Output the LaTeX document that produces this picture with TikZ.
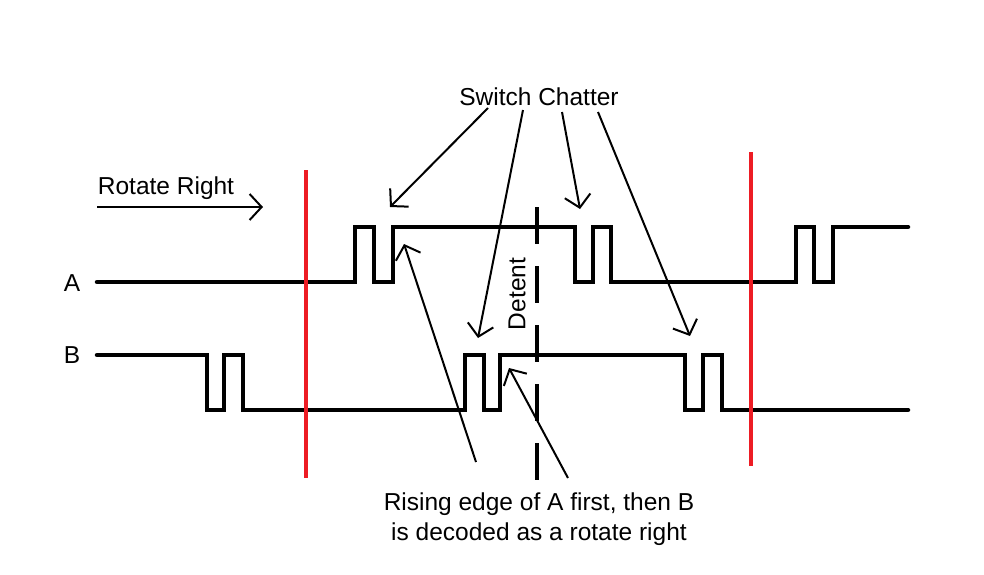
\documentclass[tikz,border=0pt]{standalone}
\usepackage{fontspec}
\setmainfont{Liberation Sans}
\usetikzlibrary{arrows.meta,positioning}
\tikzset{font=\fontsize{24.5}{30}\selectfont}
\tikzstyle{wave}=[line width=4.5pt,line join=miter,line cap=round]
\tikzstyle{redline}=[line width=3.5pt,draw={rgb,255:red,237;green,28;blue,36}]
\tikzstyle{pointer}=[line width=2pt,-{Straight Barb[length=12pt,width=26pt]}]
\tikzstyle{detentline}=[line width=4.5pt,dash pattern=on 37pt off 22pt]

\begin{document}
\begin{tikzpicture}[x=1pt,y=-1pt]
\useasboundingbox (0,0) rectangle (984,574);
% labels
\node (sc) at (539,97) {Switch Chatter};
\node (rr) at (166,188) {Rotate Right};
\node (la) at (72,283) {A};
\node (lb) at (72,355) {B};
\node[rotate=90] (det) at (517,294) {Detent};
\node[align=center] (rise) at (539,519) {Rising edge of A first, then B\\is decoded as a rotate right};
% waveforms
\draw[wave] (97,282) -- (355,282) -- (355,227) -- (374,227) -- (374,282) -- (393,282) -- (393,227)
  -- (575,227) -- (575,282) -- (593,282) -- (593,227) -- (611,227) -- (611,282)
  -- (796,282) -- (796,227) -- (814,227) -- (814,282) -- (833,282) -- (833,227) -- (908,227);
\draw[wave] (97,355) -- (207,355) -- (207,410) -- (224,410) -- (224,355) -- (243,355) -- (243,410)
  -- (465,410) -- (465,355) -- (484,355) -- (484,410) -- (500,410) -- (500,355)
  -- (685,355) -- (685,410) -- (703,410) -- (703,355) -- (722,355) -- (722,410) -- (908,410);
% markers
\draw[redline] (306,170) -- (306,478);
\draw[redline] (751,152) -- (751,466);
\draw[detentline] (537,207) -- (537,480);
% arrows
\coordinate (r0) at (97,207);
\coordinate (r1) at (263,207);
\coordinate (s1) at (488,108);
\coordinate (s2) at (523,110);
\coordinate (s3) at (562,112);
\coordinate (s4) at (598,112);
\coordinate (t1) at (390,207);
\coordinate (t2) at (478,338);
\coordinate (t3) at (580,209);
\coordinate (t4) at (690,336);
\coordinate (e1) at (476,462);
\coordinate (e2) at (568,478);
\coordinate (u1) at (404,244);
\coordinate (u2) at (509,368);
\path[pointer]
(r0) edge (r1)
(s1) edge (t1)
(s2) edge (t2)
(s3) edge (t3)
(s4) edge (t4)
(e1) edge (u1)
(e2) edge (u2);
\end{tikzpicture}
\end{document}
